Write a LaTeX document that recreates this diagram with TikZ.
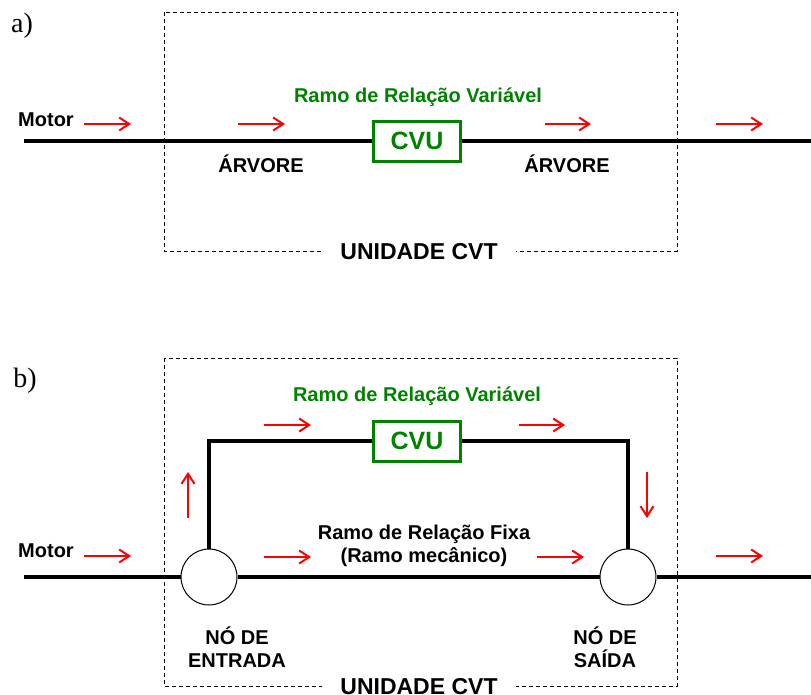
\documentclass[tikz,border=0pt]{standalone}
\usepackage{fontspec}
\setmainfont{Liberation Sans}
\newfontfamily\panelfont{Liberation Serif}
\usetikzlibrary{arrows.meta}
\definecolor{cvugreen}{RGB}{0,130,0}

\begin{document}
\begin{tikzpicture}[x=1pt,y=-1pt,
    lbl/.style={font=\fontsize{20}{23}\selectfont\bfseries, align=center, inner sep=0pt},
    greenlbl/.style={lbl, text=cvugreen},
    panel/.style={font=\panelfont\fontsize{28}{30}\selectfont, inner sep=0pt},
    cvu/.style={draw=cvugreen, line width=3pt, fill=white, minimum width=87pt, minimum height=40pt,
                inner sep=0pt, font=\fontsize{25}{28}\selectfont\bfseries, text=cvugreen},
    shaft/.style={line width=4pt},
    unit/.style={line width=0.8pt, dash pattern=on 4pt off 3pt},
    unitlbl/.style={lbl, font=\fontsize{23}{26}\selectfont\bfseries, fill=white, inner xsep=18pt, inner ysep=2pt},
    flow/.style={-{Straight Barb[length=10pt,width=13pt]}, red, line width=2pt},
    knot/.style={circle, draw, line width=1pt, fill=white, minimum size=56pt, inner sep=0pt}
]
\useasboundingbox (0,0) rectangle (811,694);

% a) single shaft
\node[panel] (pa) at (22,26) {a)};
\draw[unit] (164,12) rectangle (677,251);
\node[unitlbl] (unita) at (419,252) {UNIDADE CVT};
\coordinate (ina) at (24,141);
\coordinate (outa) at (811,141);
\node[cvu] (cvua) at (417,141) {CVU};
\draw[shaft] (ina) -- (cvua.west);
\draw[shaft] (cvua.east) -- (outa);
\node[greenlbl] (vara) at (418,97) {Ramo de Relação Variável};
\node[lbl] (motora) at (46,120) {Motor};
\node[lbl] (arva) at (261,164) {ÁRVORE};
\node[lbl] (arvb) at (567,164) {ÁRVORE};
\draw[flow] (84,124) -- (131,124);
\draw[flow] (238,124) -- (285,124);
\draw[flow] (545,124) -- (591,124);
\draw[flow] (716,124) -- (763,124);

% b) two branches
\node[panel] (pb) at (25,381) {b)};
\draw[unit] (164,358) rectangle (677,686);
\node[unitlbl] (unitb) at (419,687) {UNIDADE CVT};
\coordinate (inb) at (24,577);
\coordinate (outb) at (811,577);
\node[knot] (nin) at (209,577) {};
\node[knot] (nout) at (628,577) {};
\node[cvu] (cvub) at (417,441) {CVU};
\draw[shaft] (inb) -- (nin.west);
\draw[shaft] (nin.east) -- (nout.west);
\draw[shaft] (nout.east) -- (outb);
\draw[shaft] (nin.north) |- (cvub.west);
\draw[shaft] (cvub.east) -| (nout.north);
\node[greenlbl] (varb) at (417,396) {Ramo de Relação Variável};
\node[lbl] (fixb) at (424,546) {Ramo de Relação Fixa\\(Ramo mecânico)};
\node[lbl] (motorb) at (46,551) {Motor};
\node[lbl] (entr) at (237,647) {NÓ DE\\ENTRADA};
\node[lbl] (said) at (605,647) {NÓ DE\\SAÍDA};
\draw[flow] (84,556) -- (131,556);
\draw[flow] (264,425) -- (311,425);
\draw[flow] (519,425) -- (565,425);
\draw[flow] (188,518) -- (188,472);
\draw[flow] (647,472) -- (647,518);
\draw[flow] (264,557) -- (311,557);
\draw[flow] (537,557) -- (584,557);
\draw[flow] (716,556) -- (763,556);
\end{tikzpicture}
\end{document}
